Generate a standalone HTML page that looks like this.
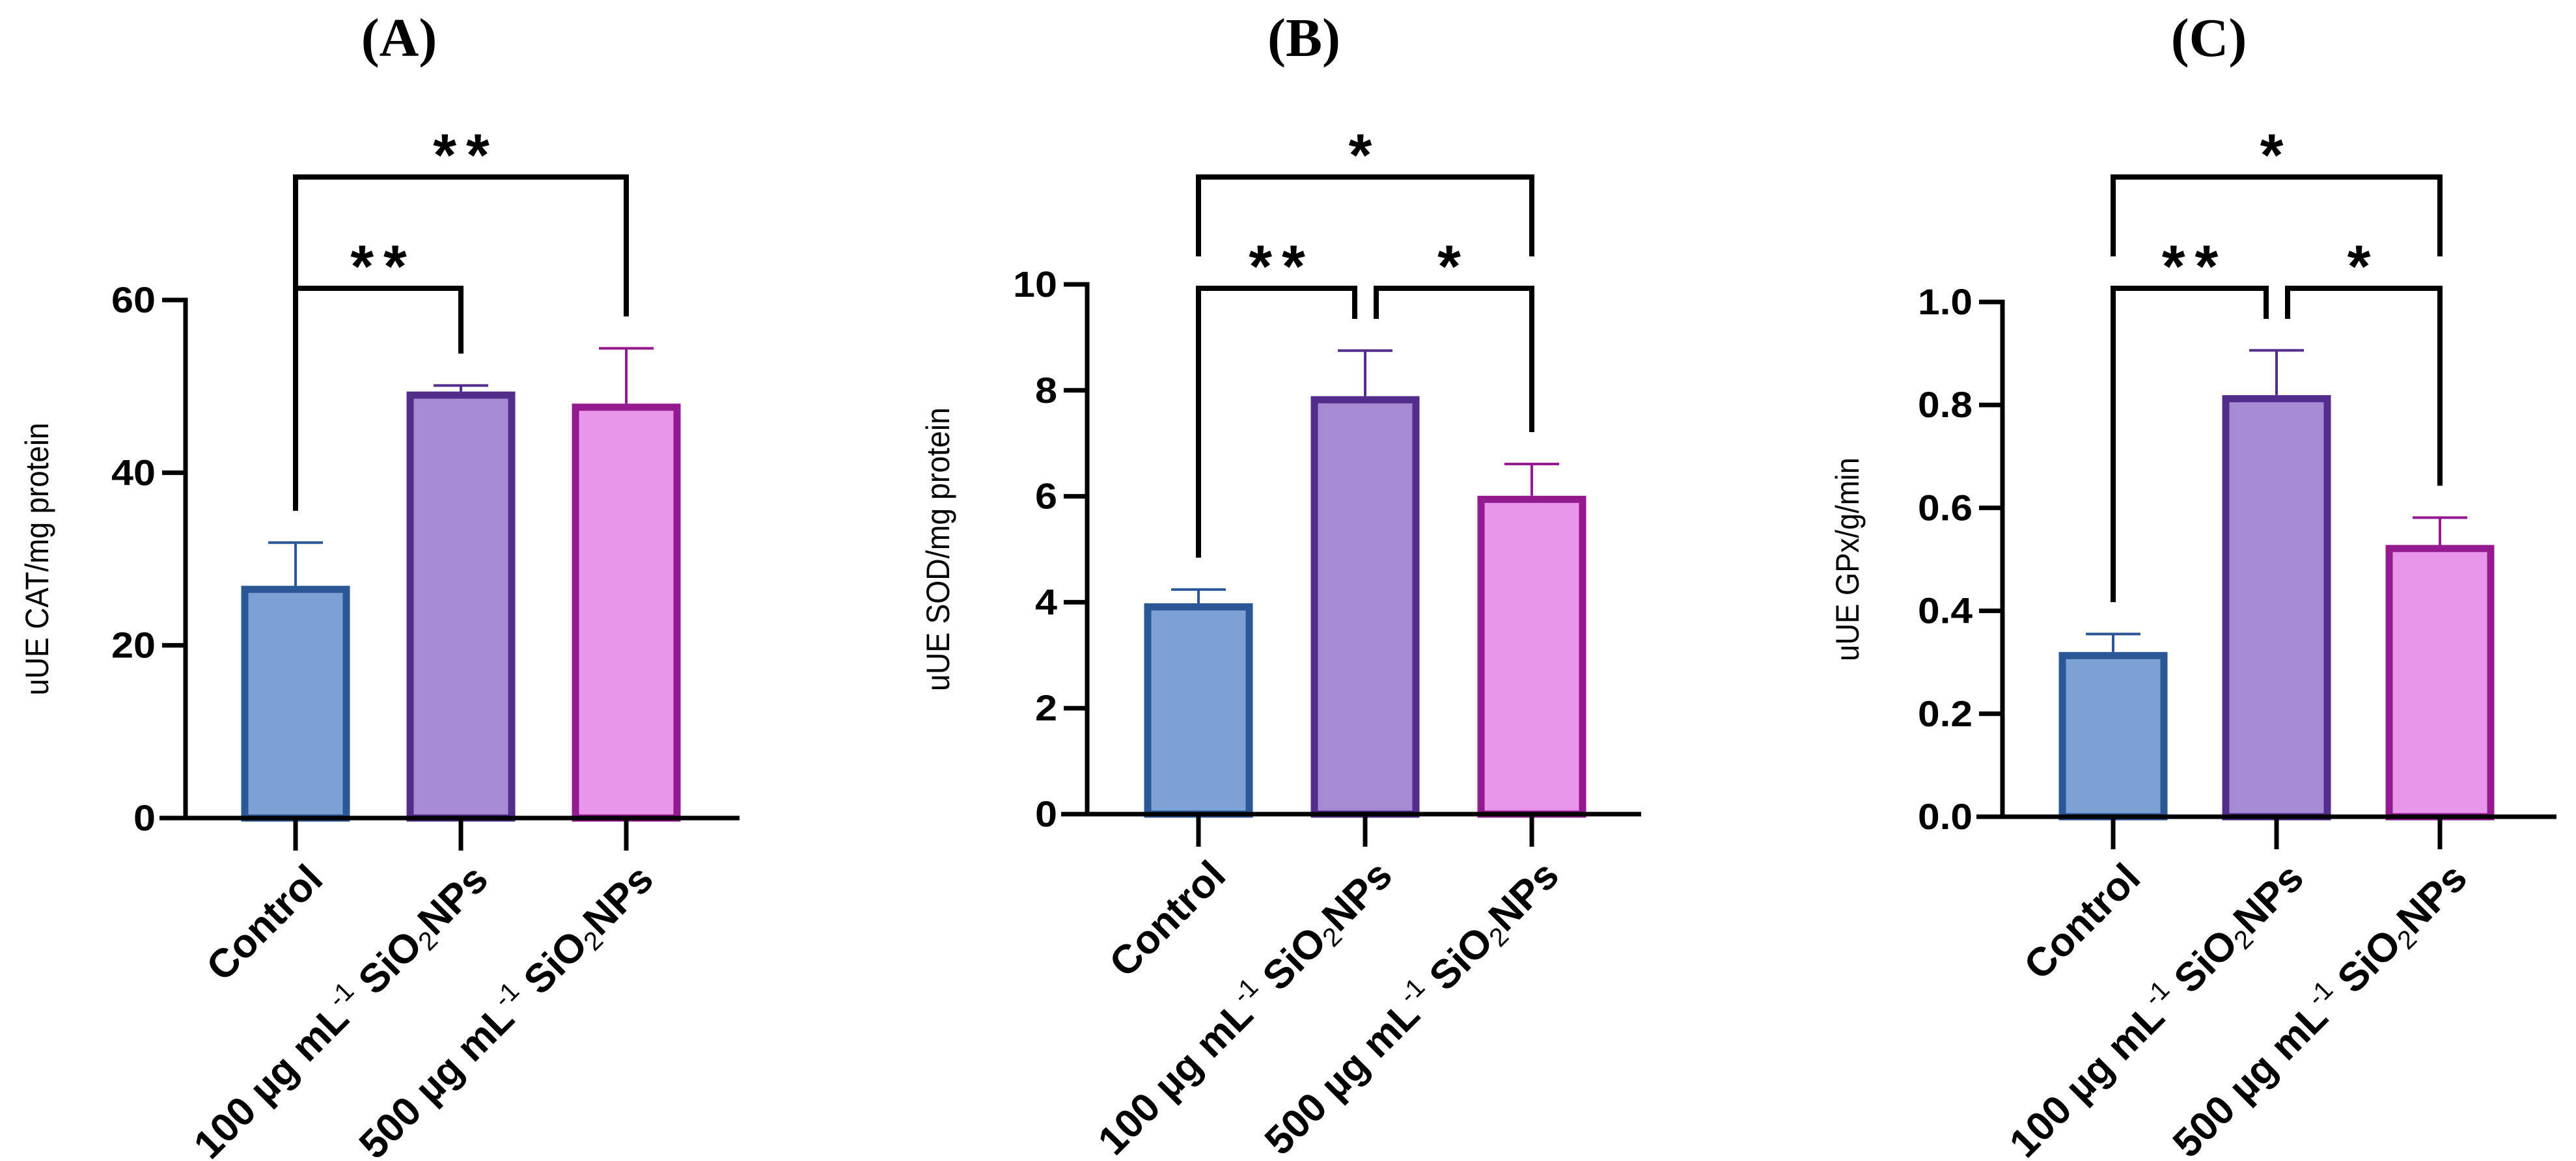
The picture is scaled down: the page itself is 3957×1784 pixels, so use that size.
<!DOCTYPE html>
<html><head><meta charset="utf-8"><style>
html,body{margin:0;padding:0;background:#fff;}
svg{display:block;}
text{font-family:"Liberation Sans",Arial,sans-serif;}
</style></head><body>
<svg id="fig" width="3957" height="1784" viewBox="0 0 3957 1784" xmlns="http://www.w3.org/2000/svg"></svg>
<script>
// ---- data ----
const categories = ["Control", "100", "500"];
const catValues = [26.9, 49.4, 48.0];
const catErrors = [5.0, 0.7, 6.4];
const sodValues = [3.98, 7.89, 6.01];
const sodErrors = [0.26, 0.86, 0.60];
const gpxValues = [0.32, 0.819, 0.528];
const gpxErrors = [0.035, 0.087, 0.053];
const catTicks = [0, 20, 40, 60];
const catTickLabels = ["0", "20", "40", "60"];
const sodTicks = [0, 2, 4, 6, 8, 10];
const sodTickLabels = ["0", "2", "4", "6", "8", "10"];
const gpxTicks = [0, 0.2, 0.4, 0.6, 0.8, 1.0];
const gpxTickLabels = ["0.0", "0.2", "0.4", "0.6", "0.8", "1.0"];
const catSig = [[0, 1, "**"], [0, 2, "**"]];
const sodSig = [[0, 1, "**"], [1, 2, "*"], [0, 2, "*"]];
const gpxSig = [[0, 1, "**"], [1, 2, "*"], [0, 2, "*"]];

const fills = ["#7ea1d5", "#a68bd3", "#e995e9"];
const strokes = ["#2b5797", "#522d8c", "#931a8f"];
const NS = "http://www.w3.org/2000/svg";
const svg = document.getElementById("fig");

function mk(tag, attrs, parent) {
  const e = document.createElementNS(NS, tag);
  for (const k in attrs) e.setAttribute(k, attrs[k]);
  (parent || svg).appendChild(e);
  return e;
}

const panels = [
  {id: "a", title: "(A)", titleX: 613, ylabel: "uUE CAT/mg protein", ylabelX: 56, ylabelLen: 419,
   axisX: 285, y0: 1257, yTop: 461, max: 60, firstX: 454, step: 254, axisEnd: 1136,
   values: catValues, errors: catErrors, ticks: catTicks, tickLabels: catTickLabels, sig: catSig},
  {id: "b", title: "(B)", titleX: 2003, ylabel: "uUE SOD/mg protein", ylabelX: 1440, ylabelLen: 436,
   axisX: 1670, y0: 1251, yTop: 437, max: 10, firstX: 1841, step: 256, axisEnd: 2521,
   values: sodValues, errors: sodErrors, ticks: sodTicks, tickLabels: sodTickLabels, sig: sodSig},
  {id: "c", title: "(C)", titleX: 3393, ylabel: "uUE GPx/g/min", ylabelX: 2837, ylabelLen: 313,
   axisX: 3076, y0: 1255, yTop: 464, max: 1.0, firstX: 3246, step: 251, axisEnd: 3927,
   values: gpxValues, errors: gpxErrors, ticks: gpxTicks, tickLabels: gpxTickLabels, sig: gpxSig}
];

panels.forEach(p => {
  const g = mk("g", {});
  
  
  const yS = v => p.y0 - (v / p.max) * (p.y0 - p.yTop);
  const xS = i => p.firstX + i * p.step;

  const t = mk("text", {x: p.titleX, y: 86, "text-anchor": "middle", "font-size": 84, "font-weight": "bold", style: "font-family:'Liberation Serif',serif"}, g);
  t.textContent = p.title;
  
  

  const yl = mk("text", {x: 0, y: 0, "text-anchor": "middle", "font-size": 50, textLength: p.ylabelLen, lengthAdjust: "spacingAndGlyphs",
    transform: `translate(${p.ylabelX + 18},${(p.y0 + p.yTop) / 2})rotate(-90)`}, g);
  yl.textContent = p.ylabel;
  
  

  p.values.forEach((v, i) => {
    const cx = xS(i), w = 167, sw = 11;
    const r = mk("rect", {x: cx - w / 2 + sw / 2, y: yS(v) + sw / 2, width: w - sw, height: p.y0 - yS(v) - sw / 2,
      fill: fills[i], stroke: strokes[i], "stroke-width": sw}, g);
    
    
    const et = yS(v + p.errors[i]);
    const eb = mk("path", {d: `M${cx},${yS(v)} V${et} M${cx - 42},${et} H${cx + 42}`, stroke: strokes[i], "stroke-width": 4, fill: "none"}, g);
    
    
  });

  const ax = mk("path", {d: `M${p.axisX},${p.yTop - 3.5} V${p.y0} M${p.axisX - 40},${p.y0} H${p.axisEnd}`, stroke: "#000", "stroke-width": 7, fill: "none"}, g);
  
  
  p.ticks.forEach((tv, k) => {
    const y = yS(tv);
    const tk = mk("line", {x1: p.axisX - 36, x2: p.axisX, y1: y, y2: y, stroke: "#000", "stroke-width": 7}, g);
    
    
    const lab = p.tickLabels[k];
    const tl = mk("text", {x: p.axisX - 46, y: y + 19, "text-anchor": "end", "font-size": 56, "font-weight": "bold",
      textLength: lab.replace(".", "").length * 34 + (lab.indexOf(".") >= 0 ? 16 : 0), lengthAdjust: "spacingAndGlyphs"}, g);
    tl.textContent = lab;
    
    
  });

  categories.forEach((c, i) => {
    const cx = xS(i);
    const tk = mk("line", {x1: cx, x2: cx, y1: p.y0, y2: p.y0 + 50, stroke: "#000", "stroke-width": 7}, g);
    
    
    const lab = mk("text", {x: 0, y: 0, "text-anchor": "end", "font-size": 62, "font-weight": "bold",
      transform: `translate(${cx + 45},${p.y0 + 98}) rotate(-45)`}, g);
    
    
    if (c === "Control") { lab.textContent = "Control"; }
    else {
      lab.appendChild(document.createTextNode(c + " \u00b5g mL"));
      const s1 = mk("tspan", {"font-size": 40, "font-weight": "normal", dy: -26}, lab); s1.textContent = "-1";
      const s2 = mk("tspan", {dy: 26}, lab); s2.textContent = " SiO";
      const s3 = mk("tspan", {"font-size": 40, "font-weight": "normal", dy: 10}, lab); s3.textContent = "2";
      const s4 = mk("tspan", {dy: -10}, lab); s4.textContent = "NPs";
    }
  });

  p.sig.forEach(s => {
    const [a, b, label] = s;
    const wide = (b - a) === 2;
    const split = p.sig.length === 3;
    const yb = wide ? 272 : 443;
    let x1 = xS(a), x2 = xS(b);
    if (!wide && split) { if (a === 1) x1 += 17; if (b === 1) x2 -= 16; }
    const legA = (wide && split) ? yb + 122 : (!wide && split && a === 1) ? yb + 47 : yS(p.values[a] + p.errors[a]) - 49;
    const legB = (wide && split) ? yb + 122 : (!wide && split && b === 1) ? yb + 47 : yS(p.values[b] + p.errors[b]) - 49;
    const br = mk("path", {d: `M${x1},${legA} V${yb} H${x2} V${legB}`, stroke: "#000", "stroke-width": 8, fill: "none"}, g);
    
    
    const st = mk("text", {x: (x1 + x2) / 2 + (label.length === 2 ? 8 : 0), y: yb - 2, "text-anchor": "middle", "font-size": 92, "font-weight": "bold", "letter-spacing": 15}, g);
    st.textContent = label;
    
    
  });
});
</script>
</body></html>
